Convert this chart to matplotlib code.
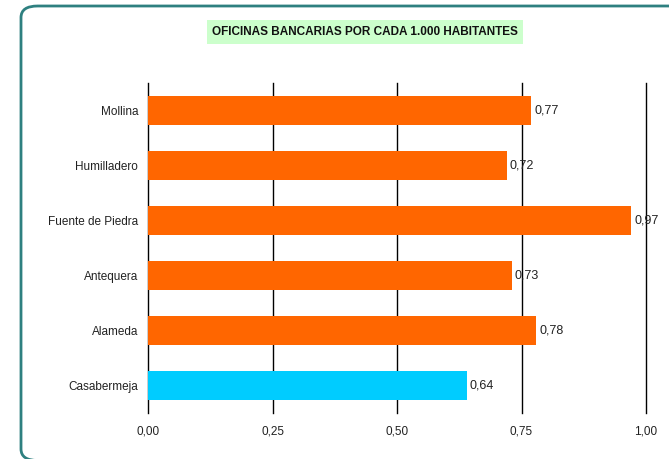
import matplotlib.pyplot as plt
from matplotlib.patches import FancyBboxPatch

municipios = ["Mollina", "Humilladero", "Fuente de Piedra", "Antequera", "Alameda", "Casabermeja"]
oficinas = [0.77, 0.72, 0.97, 0.73, 0.78, 0.64]
colores = ["#FF6600", "#FF6600", "#FF6600", "#FF6600", "#FF6600", "#00CCFF"]
ticks = [0.0, 0.25, 0.5, 0.75, 1.0]

plt.rcParams["font.family"] = ["Liberation Sans", "DejaVu Sans"]

W, H = 669, 459
fig = plt.figure(figsize=(W / 100, H / 100), dpi=100)

# marco redondeado
marco = FancyBboxPatch((21 / W, -1.5 / H), 700 / W, (H - 6 + 1.5) / H,
                       boxstyle="round,pad=0,rounding_size=0.025",
                       transform=fig.transFigure, facecolor="none",
                       edgecolor="#2E8080", linewidth=2, clip_on=False)
fig.patches.append(marco)

ax = fig.add_axes([148 / W, 1 - 413 / H, (646 - 148) / W, (413 - 83) / H])
y = list(range(len(municipios)))[::-1]
ax.barh(y, oficinas, height=0.52, color=colores, zorder=3)
for yi, v in zip(y, oficinas):
    ax.text(v + 0.006, yi, f"{v:.2f}".replace(".", ","), va="center", ha="left",
            fontsize=9, color="#222222", zorder=4)

ax.set_xlim(0, 1.0)
ax.set_ylim(-0.5, 5.5)
ax.set_yticks(y)
ax.set_yticklabels(municipios, fontsize=8.5, color="#222222")
ax.set_xticks(ticks)
ax.set_xticklabels([f"{t:.2f}".replace(".", ",") for t in ticks], fontsize=8.5,
                   color="#222222")
ax.tick_params(length=0)
ax.tick_params(axis="x", pad=9)
ax.tick_params(axis="y", pad=7)
for s in ax.spines.values():
    s.set_visible(False)
for t in ticks:
    ax.axvline(t, color="black", linewidth=1, zorder=1, clip_on=False)

fig.text(365 / W, 1 - 32 / H, "OFICINAS BANCARIAS POR CADA 1.000 HABITANTES",
         ha="center", va="center", fontsize=8.5, fontweight="bold", color="#111111",
         bbox=dict(facecolor="#CCFFCC", edgecolor="none", pad=4))

fig.savefig("out.png", dpi=100)
